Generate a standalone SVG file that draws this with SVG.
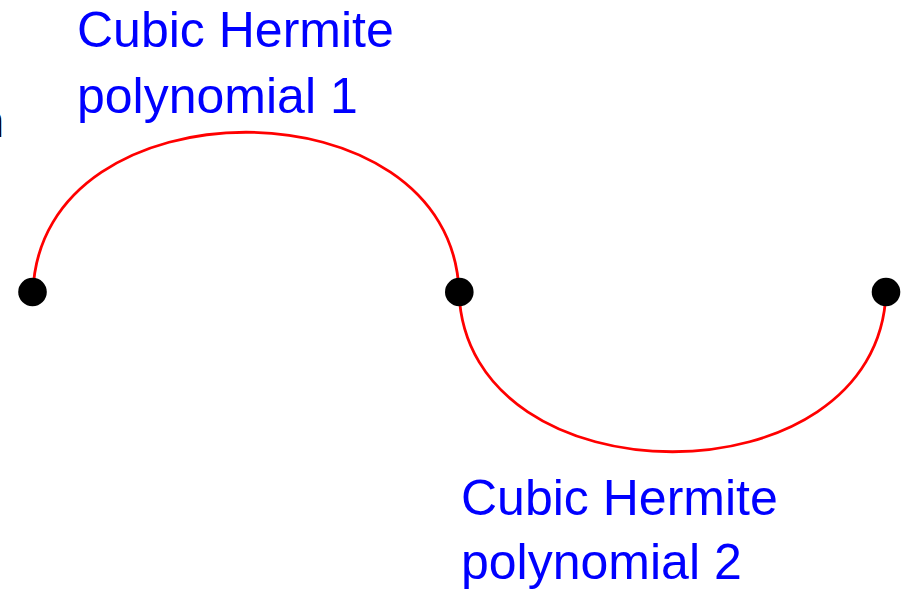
<svg xmlns="http://www.w3.org/2000/svg" width="906" height="590" viewBox="0 0 906 590">
  <style>
    .curve { fill: none; stroke: #ff0000; stroke-width: 2.8; }
    .dot { fill: #000000; }
    .label { font-family: "Liberation Sans", Arial, sans-serif; font-size: 50px; fill: #0000ff; }
    .cut { font-family: "Liberation Sans", Arial, sans-serif; font-size: 46px; fill: #000000; }
  </style>
  <rect width="906" height="590" fill="#ffffff"/>
  <text class="cut" x="-21.5" y="137">n</text>
  <g id="connectors">
    <path id="poly1" class="curve" d="M33,292 C40,79 452,79 459,292"/>
    <path id="poly2" class="curve" d="M459,292 C466,505 879,505 886,292"/>
  </g>
  <g id="node-p0"><circle class="dot" cx="32.5" cy="292" r="14.3"/></g>
  <g id="node-p1"><circle class="dot" cx="459.3" cy="292" r="14.3"/></g>
  <g id="node-p2"><circle class="dot" cx="886" cy="292" r="14.3"/></g>
  <g id="label-1">
    <text class="label" x="77" y="47">Cubic Hermite</text>
    <text class="label" x="77" y="113">polynomial 1</text>
  </g>
  <g id="label-2">
    <text class="label" x="461" y="515">Cubic Hermite</text>
    <text class="label" x="461" y="579">polynomial 2</text>
  </g>
</svg>
